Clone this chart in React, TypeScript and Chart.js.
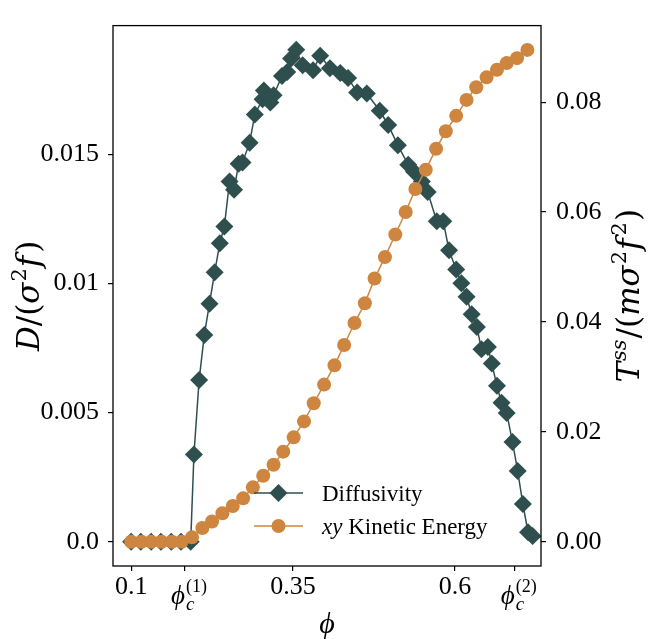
import React, { useEffect, useRef } from 'react';
import { Chart, registerables } from 'chart.js';
Chart.register(...registerables);

// ---- data ----
const phiEnergy = [0.100, 0.116, 0.131, 0.147, 0.163, 0.178, 0.194, 0.210, 0.225, 0.241, 0.257, 0.273, 0.288, 0.304, 0.320, 0.335, 0.351, 0.367, 0.382, 0.398, 0.414, 0.429, 0.445, 0.461, 0.476, 0.492, 0.508, 0.524, 0.539, 0.555, 0.571, 0.586, 0.602, 0.618, 0.633, 0.649, 0.665, 0.680, 0.696, 0.712];
const kineticEnergy = [0, 0, 0, 0, 0, 0, 0.0008, 0.0025, 0.0037, 0.0052, 0.0065, 0.0079, 0.0099, 0.0120, 0.0140, 0.0164, 0.0190, 0.0219, 0.0252, 0.0286, 0.0321, 0.0358, 0.0398, 0.0434, 0.0479, 0.0518, 0.0559, 0.0600, 0.0642, 0.0677, 0.0715, 0.0747, 0.0775, 0.0804, 0.0827, 0.0845, 0.0859, 0.0871, 0.0880, 0.0895];

const phiDiff = [0.100, 0.115, 0.131, 0.146, 0.162, 0.177, 0.192, 0.197, 0.205, 0.213, 0.221, 0.229, 0.237, 0.244, 0.252, 0.259, 0.266, 0.272, 0.283, 0.291, 0.303, 0.305, 0.315, 0.320, 0.333, 0.341, 0.347, 0.355, 0.365, 0.381, 0.392, 0.407, 0.423, 0.435, 0.449, 0.464, 0.484, 0.497, 0.512, 0.528, 0.537, 0.549, 0.558, 0.572, 0.582, 0.591, 0.602, 0.610, 0.618, 0.626, 0.634, 0.641, 0.651, 0.657, 0.665, 0.672, 0.680, 0.689, 0.697, 0.705, 0.713, 0.720];
const diffusivity = [0, 0, 0, 0, 0, 0, 0, 0.00338, 0.00626, 0.00801, 0.00922, 0.01044, 0.01156, 0.01221, 0.01395, 0.01363, 0.01464, 0.01469, 0.01545, 0.01654, 0.01714, 0.01747, 0.01701, 0.01729, 0.01804, 0.01819, 0.01871, 0.01905, 0.01845, 0.01826, 0.01882, 0.01834, 0.01815, 0.01796, 0.01740, 0.01736, 0.01669, 0.01614, 0.01535, 0.01460, 0.01433, 0.01395, 0.01354, 0.01241, 0.01241, 0.01129, 0.01054, 0.01001, 0.00949, 0.00881, 0.00832, 0.00746, 0.00754, 0.00690, 0.00604, 0.00538, 0.00499, 0.00386, 0.00274, 0.00146, 0.00037, 0.00022];

const xTicks = [0.1, 0.1833, 0.35, 0.6, 0.6926];
const xTickLabels = ['0.1', 'c1', '0.35', '0.6', 'c2'];
const leftTicks = [0, 0.005, 0.01, 0.015];
const leftTickLabels = ['0.0', '0.005', '0.01', '0.015'];
const rightTicks = [0, 0.02, 0.04, 0.06, 0.08];
const rightTickLabels = ['0.00', '0.02', '0.04', '0.06', '0.08'];

const DIFF_COLOR = '#2F4F4F';
const KE_COLOR = '#CD853F';
const FONT = '"Liberation Serif", "DejaVu Serif", serif';
const TFONT = '"DejaVu Serif", "Liberation Serif", serif';

type Seg = { t: string; it?: boolean; sz: number; dy?: number; keep?: boolean; gap?: number; f?: string };
const segFont = (s: Seg) => `${s.it ? 'italic ' : ''}${s.sz}px ${s.f || FONT}`;

function richWidth(ctx: CanvasRenderingContext2D, segs: Seg[]) {
  let w = 0, held = 0;
  for (const s of segs) {
    ctx.font = segFont(s);
    const m = ctx.measureText(s.t).width + (s.gap || 0);
    if (s.keep) held = Math.max(held, m);
    else { w += Math.max(m, held); held = 0; }
  }
  return w + held;
}

function drawRich(ctx: CanvasRenderingContext2D, segs: Seg[], x: number, y: number, align: 'left' | 'center' = 'left') {
  const total = richWidth(ctx, segs);
  let cx = align === 'center' ? x - total / 2 : x;
  let held = 0;
  ctx.textAlign = 'left';
  ctx.textBaseline = 'alphabetic';
  for (const s of segs) {
    ctx.font = segFont(s);
    const w = ctx.measureText(s.t).width + (s.gap || 0);
    ctx.fillText(s.t, cx, y + (s.dy || 0));
    if (s.keep) held = Math.max(held, w);
    else { cx += Math.max(w, held); held = 0; }
  }
}

const phiC = (n: string): Seg[] => [
  { t: 'ϕ', it: true, sz: 27, gap: 1 },
  { t: 'c', it: true, sz: 19, dy: 6, keep: true },
  { t: `(${n})`, sz: 18, dy: -12 },
];

const decorPlugin = {
  id: 'decor',
  afterDraw(chart: any) {
    const ctx: CanvasRenderingContext2D = chart.ctx;
    const a = chart.chartArea;
    const xs = chart.scales.x;
    ctx.save();
    // frame
    ctx.strokeStyle = '#000';
    ctx.lineWidth = 1.3;
    ctx.strokeRect(a.left, a.top, a.right - a.left, a.bottom - a.top);
    ctx.fillStyle = '#000';
    // phi_c tick labels
    drawRich(ctx, phiC('1'), xs.getPixelForValue(xTicks[1]) + 4, 604, 'center');
    drawRich(ctx, phiC('2'), xs.getPixelForValue(xTicks[4]) + 4, 604, 'center');
    // x title
    drawRich(ctx, [{ t: 'ϕ', it: true, sz: 30 }], (a.left + a.right) / 2, 633, 'center');
    const T = 31, S = 21, UP = -13;
    // left title
    const cy = (a.top + a.bottom) / 2;
    ctx.save();
    ctx.translate(28 + 0.36 * T, cy);
    ctx.rotate(-Math.PI / 2);
    drawRich(ctx, [
      { t: 'D', it: true, sz: T, f: TFONT },
      { t: '/(', sz: T, f: TFONT },
      { t: 'σ', it: true, sz: T, f: TFONT, gap: 1 },
      { t: '2', sz: S, dy: UP, f: TFONT, gap: 1 },
      { t: 'f', it: true, sz: T, f: TFONT, gap: 3 },
      { t: ')', sz: T, f: TFONT },
    ], 0, 0, 'center');
    ctx.restore();
    // right title
    ctx.save();
    ctx.translate(628 + 0.36 * T, cy);
    ctx.rotate(-Math.PI / 2);
    drawRich(ctx, [
      { t: 'T', it: true, sz: T, f: TFONT, gap: 1 },
      { t: 'ss', it: true, sz: S, dy: UP, f: TFONT, gap: 1 },
      { t: '/(', sz: T, f: TFONT },
      { t: 'm', it: true, sz: T, f: TFONT },
      { t: 'σ', it: true, sz: T, f: TFONT, gap: 1 },
      { t: '2', sz: S, dy: UP, f: TFONT, gap: 1 },
      { t: 'f', it: true, sz: T, f: TFONT, gap: 3 },
      { t: '2', sz: S, dy: UP, f: TFONT, gap: 1 },
      { t: ')', sz: T, f: TFONT },
    ], 0, 0, 'center');
    ctx.restore();
    // legend
    const lx0 = 254, lx1 = 303, mx = 278.5;
    const rows = [493, 526];
    ctx.strokeStyle = DIFF_COLOR;
    ctx.lineWidth = 1.5;
    ctx.beginPath(); ctx.moveTo(lx0, rows[0]); ctx.lineTo(lx1, rows[0]); ctx.stroke();
    ctx.fillStyle = DIFF_COLOR;
    const r = 9;
    ctx.beginPath();
    ctx.moveTo(mx - r, rows[0]); ctx.lineTo(mx, rows[0] - r); ctx.lineTo(mx + r, rows[0]); ctx.lineTo(mx, rows[0] + r);
    ctx.closePath(); ctx.fill();
    ctx.strokeStyle = KE_COLOR;
    ctx.beginPath(); ctx.moveTo(lx0, rows[1]); ctx.lineTo(lx1, rows[1]); ctx.stroke();
    ctx.fillStyle = KE_COLOR;
    ctx.beginPath(); ctx.arc(mx, rows[1], 7, 0, Math.PI * 2); ctx.fill();
    ctx.fillStyle = '#000';
    drawRich(ctx, [{ t: 'Diffusivity', sz: 23 }], 322, rows[0] + 8);
    drawRich(ctx, [{ t: 'xy', it: true, sz: 23 }, { t: ' Kinetic Energy', sz: 23 }], 322, rows[1] + 8);
    ctx.restore();
  },
};

export default function App() {
  const ref = useRef<HTMLCanvasElement | null>(null);
  useEffect(() => {
    document.body.style.margin = '0';
    const canvas = ref.current!;
    const tickFont = { family: FONT, size: 26 };
    const chart = new Chart(canvas, {
      type: 'line',
      data: {
        datasets: [
          {
            label: 'xy Kinetic Energy',
            data: phiEnergy.map((p, i) => ({ x: p, y: kineticEnergy[i] })),
            yAxisID: 'y2',
            borderColor: KE_COLOR,
            backgroundColor: KE_COLOR,
            borderWidth: 1.5,
            pointStyle: 'circle',
            pointRadius: 7,
            pointBorderWidth: 0,
            order: 1,
          },
          {
            label: 'Diffusivity',
            data: phiDiff.map((p, i) => ({ x: p, y: diffusivity[i] })),
            yAxisID: 'y',
            borderColor: DIFF_COLOR,
            backgroundColor: DIFF_COLOR,
            borderWidth: 1.5,
            pointStyle: 'rectRot',
            pointRadius: 9,
            pointBorderWidth: 0,
            order: 2,
          },
        ],
      },
      options: {
        animation: false,
        responsive: false,
        events: [],
        layout: { padding: { top: 8, left: 0, right: 0, bottom: 0 } },
        plugins: { legend: { display: false }, tooltip: { enabled: false } },
        scales: {
          x: {
            type: 'linear',
            position: 'bottom',
            min: 0.072,
            max: 0.733,
            afterBuildTicks: (s: any) => { s.ticks = xTicks.map((v) => ({ value: v })); },
            afterFit: (s: any) => { s.height = 73; },
            ticks: {
              autoSkip: false,
              maxRotation: 0,
              font: tickFont,
              color: '#000',
              padding: 1,
              callback: (v: any) => {
                const i = xTicks.indexOf(Number(v));
                const l = i >= 0 ? xTickLabels[i] : '';
                return l.startsWith('c') ? '' : l;
              },
            },
            grid: { drawOnChartArea: false, drawTicks: true, tickLength: 5, color: '#000', lineWidth: 1.2 },
            border: { display: false },
          },
          y: {
            type: 'linear',
            position: 'left',
            min: -0.000937,
            max: 0.019987,
            afterBuildTicks: (s: any) => { s.ticks = leftTicks.map((v) => ({ value: v })); },
            afterFit: (s: any) => { s.width = 113; },
            ticks: {
              autoSkip: false,
              font: tickFont,
              color: '#000',
              padding: 9,
              callback: (v: any) => {
                const i = leftTicks.indexOf(Number(v));
                return i >= 0 ? leftTickLabels[i] : '';
              },
            },
            grid: { drawOnChartArea: false, drawTicks: true, tickLength: 5, color: '#000', lineWidth: 1.2 },
            border: { display: false },
          },
          y2: {
            type: 'linear',
            position: 'right',
            min: -0.00441,
            max: 0.09392,
            afterBuildTicks: (s: any) => { s.ticks = rightTicks.map((v) => ({ value: v })); },
            afterFit: (s: any) => { s.width = 116; },
            ticks: {
              autoSkip: false,
              font: tickFont,
              color: '#000',
              padding: 10,
              callback: (v: any) => {
                const i = rightTicks.indexOf(Number(v));
                return i >= 0 ? rightTickLabels[i] : '';
              },
            },
            grid: { drawOnChartArea: false, drawTicks: true, tickLength: 5, color: '#000', lineWidth: 1.2 },
            border: { display: false },
          },
        },
      },
      plugins: [decorPlugin],
    } as any);
    return () => chart.destroy();
  }, []);
  return (
    <canvas
      ref={ref}
      width={657}
      height={639}
      style={{ position: 'absolute', left: 0, top: 0, width: 657, height: 639 }}
    />
  );
}
